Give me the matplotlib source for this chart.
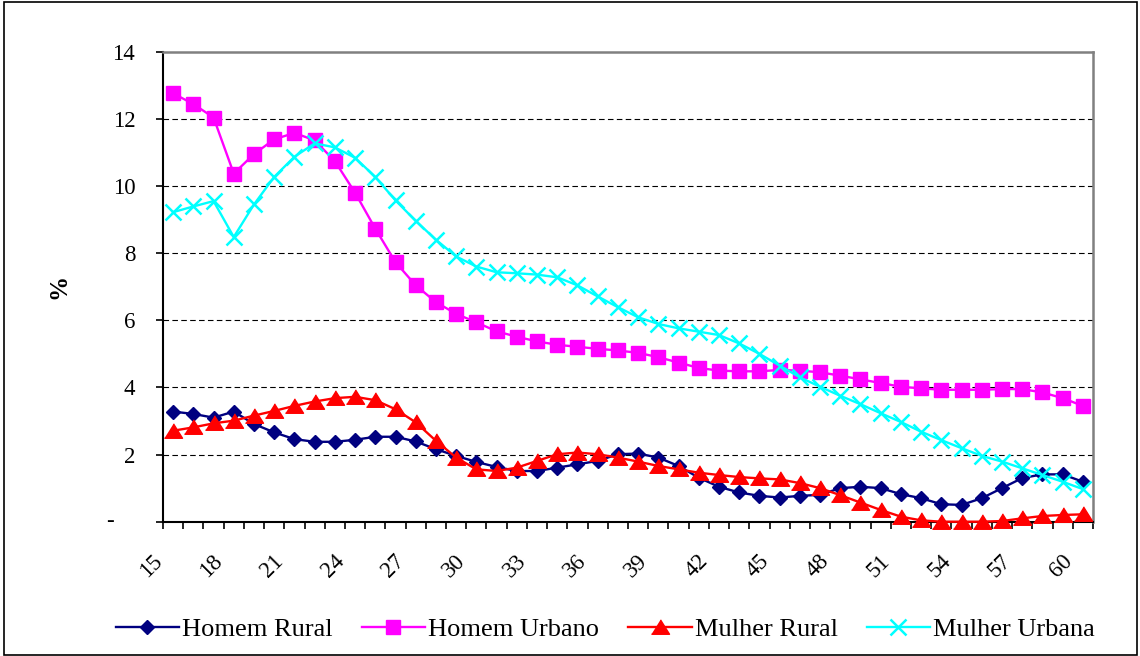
import matplotlib
matplotlib.use("Agg")
import matplotlib.pyplot as plt
from matplotlib.patches import Rectangle
from matplotlib.transforms import ScaledTranslation
import numpy as np

ages = list(range(15, 61))
tick_labels = [str(a) for a in range(15, 61, 3)]

homem_rural = [3.28, 3.21, 3.10, 3.28, 2.91, 2.66, 2.46, 2.38, 2.38, 2.44, 2.53, 2.53, 2.39, 2.16,
               1.96, 1.78, 1.63, 1.51, 1.51, 1.61, 1.71, 1.81, 2.01, 2.03, 1.91, 1.66, 1.31, 1.04,
               0.87, 0.77, 0.72, 0.77, 0.80, 1.00, 1.04, 1.00, 0.82, 0.70, 0.52, 0.50, 0.70, 1.00,
               1.30, 1.41, 1.41, 1.19]
homem_urbano = [12.76, 12.44, 12.04, 10.37, 10.95, 11.39, 11.58, 11.36, 10.74, 9.80, 8.73, 7.73,
                7.04, 6.54, 6.19, 5.94, 5.67, 5.51, 5.37, 5.27, 5.21, 5.15, 5.10, 5.03, 4.90, 4.74,
                4.58, 4.50, 4.48, 4.48, 4.52, 4.50, 4.45, 4.35, 4.24, 4.13, 4.02, 3.97, 3.93, 3.93,
                3.93, 3.95, 3.95, 3.85, 3.68, 3.45]
mulher_rural = [2.71, 2.81, 2.93, 3.01, 3.16, 3.30, 3.45, 3.58, 3.68, 3.72, 3.62, 3.35, 2.96, 2.41,
                1.91, 1.56, 1.51, 1.61, 1.81, 2.01, 2.06, 2.01, 1.91, 1.79, 1.66, 1.56, 1.46, 1.39,
                1.33, 1.29, 1.26, 1.15, 1.00, 0.79, 0.57, 0.35, 0.15, 0.04, 0.0, 0.0, 0.0, 0.02,
                0.10, 0.17, 0.20, 0.22]
mulher_urbana = [9.22, 9.39, 9.55, 8.48, 9.45, 10.27, 10.87, 11.27, 11.15, 10.84, 10.27, 9.57, 8.96,
                 8.40, 7.90, 7.60, 7.43, 7.40, 7.36, 7.28, 7.04, 6.71, 6.39, 6.09, 5.89, 5.76, 5.66,
                 5.56, 5.31, 5.00, 4.65, 4.30, 4.02, 3.75, 3.50, 3.23, 2.97, 2.68, 2.43, 2.19, 1.96,
                 1.79, 1.59, 1.39, 1.19, 0.97]

series_names = ["Homem Rural", "Homem Urbano", "Mulher Rural", "Mulher Urbana"]

plt.rcParams['font.family'] = ['Liberation Serif', 'DejaVu Serif']

fig = plt.figure(figsize=(11.4, 6.56), dpi=100)
fig.patch.set_facecolor('white')
ax = fig.add_axes([163/1140, 1-521.7/656, 930/1140, 470/656])

x = np.arange(len(ages))
tri = [(-1.0, -0.75), (1.0, -0.75), (0.0, 0.85)]

ax.plot(x, homem_rural, color='#000080', lw=1.7, marker='D', ms=7.6, mec='#000080', mfc='#000080',
        label=series_names[0], clip_on=False, zorder=3)
ax.plot(x, homem_urbano, color='#FF00FF', lw=1.7, marker='s', ms=10.5, mec='#FF00FF', mfc='#FF00FF',
        label=series_names[1], clip_on=False, zorder=3)
ax.plot(x, mulher_rural, color='#FF0000', lw=1.7, marker=tri, ms=13, mec='#FF0000', mfc='#FF0000',
        label=series_names[2], clip_on=False, zorder=3)
ax.plot(x, mulher_urbana, color='#00FFFF', lw=1.7, marker='x', ms=12, mew=1.8, mec='#00FFFF',
        label=series_names[3], clip_on=False, zorder=3)

ax.set_xlim(-0.5, len(ages) - 0.5)
ax.set_ylim(0, 14)

# grid
for g in range(2, 14, 2):
    ax.axhline(g, color='black', lw=0.8, dashes=(5, 3), zorder=1)

# spines
ax.spines['left'].set_color('black')
ax.spines['left'].set_linewidth(1.5)
ax.spines['bottom'].set_color('black')
ax.spines['bottom'].set_linewidth(1.5)
ax.spines['top'].set_color('#808080')
ax.spines['top'].set_linewidth(1.8)
ax.spines['right'].set_color('#808080')
ax.spines['right'].set_linewidth(1.8)

# y ticks
yt = list(range(0, 16, 2))
ax.set_yticks(yt)
ax.set_yticklabels([''] + [str(v) for v in yt[1:]])
ax.tick_params(axis='y', direction='out', length=5, width=1.2, pad=15, labelsize=16.5)
ax.text(-0.0575, 0, '-', transform=ax.get_yaxis_transform(), ha='center', va='center', fontsize=16.5)

# x ticks: minor ticks at every category boundary, labels every 3 categories at boundaries
ax.set_xticks(np.arange(-0.5, len(ages) + 0.5, 1.0), minor=True)
ax.set_xticks(np.arange(0, len(ages), 3) - 0.5)
ax.set_xticklabels(tick_labels, rotation=45, ha='right', va='center', rotation_mode='anchor')
ax.tick_params(axis='x', which='both', direction='out', length=5, width=1.2)
ax.tick_params(axis='x', which='major', pad=21, labelsize=16.5)
shift = ScaledTranslation(-4/100, 0, fig.dpi_scale_trans)
for lab in ax.get_xticklabels():
    lab.set_transform(lab.get_transform() + shift)

ax.set_ylabel('%', fontsize=18, fontweight='bold', labelpad=30)

leg = fig.legend(loc='center', bbox_to_anchor=(0.531, 0.04), ncol=4, frameon=False,
                 fontsize=19, handlelength=2.4, handletextpad=0.12, columnspacing=1.1)

fig.add_artist(Rectangle((4/1140, 1/656), 1133/1140, 653/656, transform=fig.transFigure,
                         fill=False, edgecolor='black', lw=1.2))

fig.savefig('out.png', dpi=100, facecolor='white')
